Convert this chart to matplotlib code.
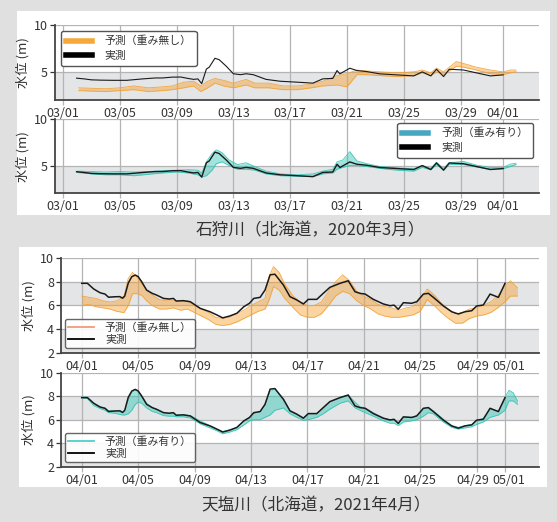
import matplotlib
matplotlib.use('Agg')
import matplotlib.pyplot as plt
from matplotlib.patches import Rectangle
from matplotlib.lines import Line2D
from matplotlib.transforms import ScaledTranslation

plt.rcParams['font.family'] = ['Noto Sans CJK JP', 'DejaVu Sans']

# ---------------- data: 石狩川 2020年3月 (days from 03/01) ----------------
ishikari_tick_days = [0, 4, 8, 12, 16, 20, 24, 28, 31]
ishikari_tick_labels = ['03/01', '03/05', '03/09', '03/13', '03/17',
                        '03/21', '03/25', '03/29', '04/01']

ishikari_obs_days = [0.96, 1.5, 2.0, 2.6, 3.5, 4.5, 5.6, 6.5, 7.0, 7.7, 8.3, 8.8,
                     9.2, 9.5, 9.77, 10.1, 10.3, 10.7, 11.0, 11.5, 12.0, 12.5,
                     12.9, 13.4, 14.3, 15.3, 16.5, 17.6, 18.3, 19.0, 19.3, 19.5,
                     20.2, 20.7, 21.4, 22.3, 23.5, 24.7, 25.3, 25.9, 26.3, 26.8,
                     27.2, 28.2, 29.1, 30.1, 31.0]
ishikari_obs = [4.33, 4.25, 4.15, 4.12, 4.1, 4.1, 4.25, 4.35, 4.35, 4.44, 4.45, 4.3,
                4.2, 4.25, 3.75, 5.3, 5.5, 6.45, 6.3, 5.6, 4.8, 4.7,
                4.8, 4.7, 4.2, 4.0, 3.9, 3.8, 4.26, 4.3, 5.14, 4.79,
                5.39, 5.14, 5.03, 4.79, 4.68, 4.57, 5.0, 4.57, 5.28, 4.5,
                5.28, 5.2, 4.9, 4.57, 4.68]

ishikari_nw_days = [1.1, 2.0, 3.0, 4.0, 5.0, 6.0, 7.0, 7.7, 8.5, 9.2, 9.7, 10.2,
                    10.7, 11.3, 12.0, 12.9, 13.5, 14.5, 15.5, 16.5, 17.5, 18.3,
                    19.3, 20.0, 20.7, 21.4, 22.3, 23.5, 24.7, 25.3, 25.9, 26.3,
                    26.8, 27.2, 27.7, 28.2, 29.1, 30.1, 31.0, 31.5, 31.9]
ishikari_nw_lo = [3.0, 2.95, 2.9, 3.0, 3.1, 2.9, 3.0, 3.1, 3.3, 3.5, 2.9, 3.3,
                  3.8, 3.5, 3.3, 3.6, 3.3, 3.3, 3.1, 3.1, 3.3, 3.5,
                  3.6, 3.4, 4.7, 4.7, 4.6, 4.5, 4.6, 4.9, 4.6, 5.0,
                  4.7, 5.1, 5.6, 5.5, 5.2, 4.8, 4.7, 4.9, 5.0]
ishikari_nw_hi = [3.3, 3.25, 3.2, 3.3, 3.5, 3.3, 3.4, 3.5, 3.9, 4.0, 3.5, 4.0,
                  4.3, 4.1, 3.8, 4.2, 3.8, 3.8, 3.5, 3.5, 3.7, 4.0,
                  4.6, 4.8, 5.2, 5.1, 5.0, 4.9, 5.0, 5.2, 4.9, 5.4,
                  5.0, 5.5, 6.1, 5.9, 5.5, 5.2, 5.0, 5.2, 5.2]

ishikari_w_days = [1.0, 2.0, 3.0, 4.0, 5.0, 6.0, 7.0, 8.0, 8.8, 9.5, 9.77, 10.1,
                   10.5, 10.8, 11.2, 11.7, 12.3, 12.9, 13.5, 14.3, 15.3, 16.5,
                   17.6, 18.3, 19.0, 19.3, 19.7, 20.2, 20.7, 21.4, 22.3, 23.5,
                   24.7, 25.3, 25.9, 26.3, 26.8, 27.2, 28.2, 29.1, 30.1, 31.0,
                   31.5, 31.9]
ishikari_w_lo = [4.25, 4.1, 4.0, 4.0, 3.9, 4.05, 4.2, 4.3, 4.2, 4.0, 3.75, 3.9,
                 4.5, 5.2, 5.4, 5.0, 4.6, 4.6, 4.5, 4.1, 3.9, 3.85,
                 3.8, 4.1, 4.2, 4.6, 4.8, 5.0, 5.0, 4.9, 4.7, 4.5,
                 4.4, 4.8, 4.55, 5.1, 4.5, 5.1, 5.1, 4.85, 4.6, 4.65,
                 4.9, 5.1]
ishikari_w_hi = [4.4, 4.35, 4.3, 4.35, 4.3, 4.35, 4.45, 4.5, 4.55, 4.5, 4.2, 5.4,
                 6.3, 6.7, 6.4, 5.6, 5.1, 5.3, 4.9, 4.4, 4.1, 4.0,
                 4.1, 4.4, 4.6, 5.4, 5.6, 6.5, 5.5, 5.2, 4.9, 4.75,
                 4.65, 5.0, 4.7, 5.35, 4.7, 5.3, 5.45, 5.05, 4.8, 4.8,
                 5.15, 5.25]

# ---------------- data: 天塩川 2021年4月 (days from 04/01) ----------------
teshio_tick_days = [0, 4, 8, 12, 16, 20, 24, 28, 30]
teshio_tick_labels = ['04/01', '04/05', '04/09', '04/13', '04/17',
                      '04/21', '04/25', '04/29', '05/01']

teshio_obs_days = [0.0, 0.4, 0.85, 1.3, 1.65, 1.9, 2.35, 2.7, 2.9, 3.05, 3.3, 3.55,
                   3.8, 4.0, 4.25, 4.6, 5.0, 5.3, 5.8, 6.2, 6.5, 6.7, 7.2, 7.7,
                   8.4, 9.1, 9.6, 10.0, 10.5, 11.0, 11.5, 11.9, 12.2, 12.65, 13.0,
                   13.36, 13.7, 14.3, 14.77, 15.25, 15.72, 16.07, 16.67, 17.13,
                   17.6, 18.32, 18.9, 19.38, 19.74, 20.1, 20.68, 21.39, 21.86,
                   22.15, 22.45, 22.81, 23.4, 23.76, 24.23, 24.58, 24.94, 25.65,
                   26.24, 26.71, 27.18, 27.66, 28.01, 28.48, 28.96, 29.55, 30.02]
teshio_obs = [7.88, 7.88, 7.4, 7.08, 6.97, 6.7, 6.74, 6.75, 6.62, 6.8, 7.9, 8.44,
              8.58, 8.45, 8.02, 7.31, 7.03, 6.89, 6.6, 6.55, 6.6, 6.38, 6.41, 6.32,
              5.76, 5.47, 5.19, 4.95, 5.11, 5.34, 5.9, 6.19, 6.6, 6.69, 7.31,
              8.6, 8.65, 7.74, 6.75, 6.47, 6.13, 6.52, 6.52, 7.03,
              7.54, 7.88, 8.10, 7.17, 7.03, 6.97, 6.52, 6.13, 5.98,
              6.03, 5.68, 6.24, 6.19, 6.32, 6.97, 7.03, 6.69, 5.96,
              5.47, 5.28, 5.47, 5.56, 5.96, 6.04, 6.97, 6.69, 7.88]

teshio_nw_days = [0.0, 0.5, 1.0, 1.5, 2.0, 2.5, 3.0, 3.3, 3.6, 4.0, 4.3, 4.6, 5.0,
                  5.5, 6.0, 6.5, 7.0, 7.5, 8.0, 8.5, 9.0, 9.5, 10.0, 10.5, 11.0,
                  11.5, 12.0, 12.5, 13.0, 13.3, 13.6, 14.0, 14.4, 15.0, 15.5, 16.0,
                  16.5, 17.0, 17.5, 18.0, 18.5, 19.0, 19.5, 20.0, 20.5, 21.0, 21.5,
                  22.0, 22.5, 23.0, 23.5, 24.0, 24.5, 25.0, 25.5, 26.0, 26.5, 27.0,
                  27.5, 28.0, 28.5, 29.0, 29.5, 30.0, 30.4, 30.9]
teshio_nw_lo = [6.0, 6.1, 5.9, 5.8, 5.7, 5.5, 5.4, 6.0, 7.0, 7.0, 6.8, 6.4, 6.0,
                5.7, 5.7, 5.8, 5.6, 5.7, 5.4, 5.1, 4.8, 4.4, 4.3, 4.4, 4.6,
                4.9, 5.2, 5.5, 5.7, 6.5, 7.6, 7.3, 6.6, 5.8, 5.2, 5.0,
                5.0, 5.3, 6.0, 6.8, 7.2, 7.0, 6.4, 6.0, 5.7, 5.3, 5.1,
                5.0, 5.0, 5.1, 5.2, 5.5, 6.5, 6.0, 5.4, 4.9, 4.5, 4.5,
                4.9, 5.1, 5.2, 5.4, 5.8, 6.3, 6.8, 6.8]
teshio_nw_hi = [6.8, 6.7, 6.6, 6.4, 6.3, 6.4, 6.8, 8.3, 8.8, 8.3, 7.8, 7.3, 6.9,
                6.5, 6.4, 6.4, 6.3, 6.4, 6.0, 5.7, 5.4, 5.0, 4.9, 5.0, 5.3,
                5.6, 6.0, 6.3, 6.6, 8.5, 9.3, 8.8, 7.8, 6.8, 6.3, 6.0,
                6.0, 6.3, 7.2, 8.0, 8.6, 8.1, 7.2, 6.8, 6.5, 6.1, 5.9,
                5.8, 5.6, 5.8, 5.9, 6.5, 7.4, 6.9, 6.2, 5.7, 5.3, 5.4,
                5.7, 5.8, 6.0, 6.3, 6.8, 7.6, 8.1, 7.5]

teshio_w_days = teshio_obs_days + [30.3, 30.6, 30.9]
teshio_w_lo = [7.85, 7.8, 7.2, 6.95, 6.8, 6.6, 6.55, 6.45, 6.4, 6.4, 6.5, 6.8,
               7.3, 7.5, 7.4, 7.0, 6.7, 6.6, 6.35, 6.3, 6.3, 6.25, 6.25, 6.15,
               5.65, 5.3, 5.05, 4.8, 4.95, 5.15, 5.55, 5.9, 6.0, 6.0, 6.2,
               6.4, 6.8, 7.0, 6.5, 6.2, 5.95, 6.0, 6.2, 6.5,
               6.9, 7.4, 7.6, 7.0, 6.8, 6.6, 6.3, 5.9, 5.7,
               5.7, 5.5, 5.8, 5.9, 6.0, 6.3, 6.6, 6.5, 5.8,
               5.35, 5.2, 5.3, 5.4, 5.6, 5.8, 6.2, 6.4, 6.8,
               7.6, 7.6, 7.3]
teshio_w_hi = [7.9, 7.9, 7.4, 7.1, 7.0, 6.75, 6.75, 6.8, 6.65, 6.8, 7.6, 8.3,
               8.5, 8.4, 8.0, 7.4, 7.0, 6.9, 6.6, 6.55, 6.6, 6.4, 6.45, 6.35,
               5.9, 5.5, 5.2, 5.0, 5.15, 5.35, 5.9, 6.2, 6.5, 6.7, 7.2,
               8.4, 8.6, 7.8, 6.8, 6.5, 6.15, 6.5, 6.5, 7.0,
               7.5, 7.9, 8.1, 7.5, 7.1, 7.0, 6.6, 6.15, 6.0,
               6.05, 5.75, 6.25, 6.2, 6.35, 6.95, 7.05, 6.75, 6.05,
               5.5, 5.35, 5.5, 5.6, 5.95, 6.1, 6.95, 6.75, 7.9,
               8.5, 8.3, 7.6]

caption_top = '石狩川（北海道，2020年3月）'
caption_bottom = '天塩川（北海道，2021年4月）'
label_nw = '予測（重み無し）'
label_w = '予測（重み有り）'
label_obs = '実測'
ylabel = '水位 (m)'

# ---------------- styling ----------------
W, H = 557, 522
ORANGE = '#f5a030'
TEAL = '#2ec4b4'
BAND = '#e4e5e7'
GRID = '#b4b4b4'
TXT = '#333333'

fig = plt.figure(figsize=(W / 100, H / 100), dpi=100)
fig.patch.set_facecolor('#e0e0e0')


def rect(left, right, top, bottom):
    return [left / W, 1 - bottom / H, (right - left) / W, (bottom - top) / H]


fig.add_artist(Rectangle((17 / W, 1 - 215 / H), 533 / W, 204 / H,
                         transform=fig.transFigure, facecolor='white',
                         edgecolor='none', zorder=-5))
fig.add_artist(Rectangle((19 / W, 1 - 487 / H), 528 / W, 240 / H,
                         transform=fig.transFigure, facecolor='white',
                         edgecolor='none', zorder=-5))


def style_axes(ax, xlim, ylim, yticks, bands, tick_days, tick_labels):
    ax.set_facecolor('white')
    for lo, hi in bands:
        ax.axhspan(lo, hi, color=BAND, lw=0, zorder=0)
    ax.set_xlim(*xlim)
    ax.set_ylim(*ylim)
    ax.set_yticks(yticks)
    ax.set_xticks(tick_days)
    ax.set_xticklabels(tick_labels)
    ax.grid(True, color=GRID, lw=0.9, zorder=0.5)
    ax.set_axisbelow(True)
    for s in ('top', 'right'):
        ax.spines[s].set_visible(False)
    for s in ('left', 'bottom'):
        ax.spines[s].set_color('#444444')
        ax.spines[s].set_linewidth(1.3)
    ax.tick_params(axis='both', labelsize=9, colors=TXT, length=3.5,
                   width=0.9, pad=1.5)
    ax.tick_params(axis='x', color=GRID)
    ax.set_ylabel(ylabel, fontsize=9.5, color=TXT, labelpad=3)


def spread_last_labels(ax):
    # reference shifts the crowded last two date labels apart slightly
    labels = ax.get_xticklabels()
    labels[-2].set_transform(labels[-2].get_transform() +
                             ScaledTranslation(-4 / 100, 0, fig.dpi_scale_trans))
    labels[-1].set_transform(labels[-1].get_transform() +
                             ScaledTranslation(4 / 100, 0, fig.dpi_scale_trans))


def draw(ax, ens_days, lo, hi, color, obs_days, obs, obs_lw):
    ax.fill_between(ens_days, lo, hi, color=color, alpha=0.45, lw=0, zorder=2)
    ax.plot(ens_days, lo, color=color, lw=0.6, alpha=0.9, zorder=2)
    ax.plot(ens_days, hi, color=color, lw=0.6, alpha=0.9, zorder=2)
    ax.plot(obs_days, obs, color='#1a1a1a', lw=obs_lw, zorder=3)


ishikari_xlim = (-0.56, 33.52)
teshio_xlim = (-1.47, 32.43)

# Panel A
axA = fig.add_axes(rect(55, 539, 25, 100))
style_axes(axA, ishikari_xlim, (2, 10), [5, 10], [(2, 5)],
           ishikari_tick_days, ishikari_tick_labels)
draw(axA, ishikari_nw_days, ishikari_nw_lo, ishikari_nw_hi, ORANGE,
     ishikari_obs_days, ishikari_obs, 0.8)
legA = axA.legend([Line2D([], [], color='#f7a838', lw=4),
                   Line2D([], [], color='black', lw=4)],
                  [label_nw, label_obs], loc='upper left',
                  bbox_to_anchor=(0.012, 0.92), borderaxespad=0,
                  fontsize=7.8, handlelength=2.4, handletextpad=1.2,
                  labelspacing=0.45, borderpad=0.45, fancybox=True,
                  framealpha=1, edgecolor='#555555')
legA.get_frame().set_linewidth(1.0)
for t in legA.get_texts():
    t.set_color(TXT)

# Panel B
axB = fig.add_axes(rect(55, 539, 119.3, 193.3))
style_axes(axB, ishikari_xlim, (2, 10), [5, 10], [(2, 5)],
           ishikari_tick_days, ishikari_tick_labels)
draw(axB, ishikari_w_days, ishikari_w_lo, ishikari_w_hi, TEAL,
     ishikari_obs_days, ishikari_obs, 1.0)
legB = axB.legend([Line2D([], [], color='#45a8c0', lw=4),
                   Line2D([], [], color='black', lw=4)],
                  [label_w, label_obs], loc='upper right',
                  bbox_to_anchor=(0.988, 0.95), borderaxespad=0,
                  fontsize=7.8, handlelength=2.4, handletextpad=1.2,
                  labelspacing=0.45, borderpad=0.45, fancybox=True,
                  framealpha=1, edgecolor='#555555')
legB.get_frame().set_linewidth(1.0)
for t in legB.get_texts():
    t.set_color(TXT)

# Panel C
axC = fig.add_axes(rect(61, 539, 258.3, 352.7))
style_axes(axC, teshio_xlim, (2, 10), [2, 4, 6, 8, 10], [(2, 4), (6, 8)],
           teshio_tick_days, teshio_tick_labels)
spread_last_labels(axC)
draw(axC, teshio_nw_days, teshio_nw_lo, teshio_nw_hi, ORANGE,
     teshio_obs_days, teshio_obs, 1.1)
legC = axC.legend([Line2D([], [], color='#f59a78', lw=1.3),
                   Line2D([], [], color='black', lw=1.3)],
                  [label_nw, label_obs], loc='lower left',
                  bbox_to_anchor=(0.008, 0.05), borderaxespad=0,
                  fontsize=7.8, handlelength=2.4, handletextpad=1.0,
                  labelspacing=0.2, borderpad=0.3, fancybox=True,
                  framealpha=0.9, edgecolor='#555555')
legC.get_frame().set_linewidth(1.0)
for t in legC.get_texts():
    t.set_color(TXT)

# Panel D
axD = fig.add_axes(rect(61, 539, 372.7, 466.7))
style_axes(axD, teshio_xlim, (2, 10), [2, 4, 6, 8, 10], [(2, 4), (6, 8)],
           teshio_tick_days, teshio_tick_labels)
spread_last_labels(axD)
draw(axD, teshio_w_days, teshio_w_lo, teshio_w_hi, TEAL,
     teshio_obs_days, teshio_obs, 1.1)
legD = axD.legend([Line2D([], [], color='#4fd0c7', lw=1.3),
                   Line2D([], [], color='black', lw=1.3)],
                  [label_w, label_obs], loc='lower left',
                  bbox_to_anchor=(0.008, 0.05), borderaxespad=0,
                  fontsize=7.8, handlelength=2.4, handletextpad=1.0,
                  labelspacing=0.2, borderpad=0.3, fancybox=True,
                  framealpha=0.9, edgecolor='#555555')
legD.get_frame().set_linewidth(1.0)
for t in legD.get_texts():
    t.set_color(TXT)

fig.text(310 / W, 1 - 230.5 / H, caption_top, ha='center', va='center',
         fontsize=12, color=TXT)
fig.text(316 / W, 1 - 505.5 / H, caption_bottom, ha='center', va='center',
         fontsize=12, color=TXT)

fig.savefig('out.png', dpi=100, facecolor=fig.get_facecolor())
